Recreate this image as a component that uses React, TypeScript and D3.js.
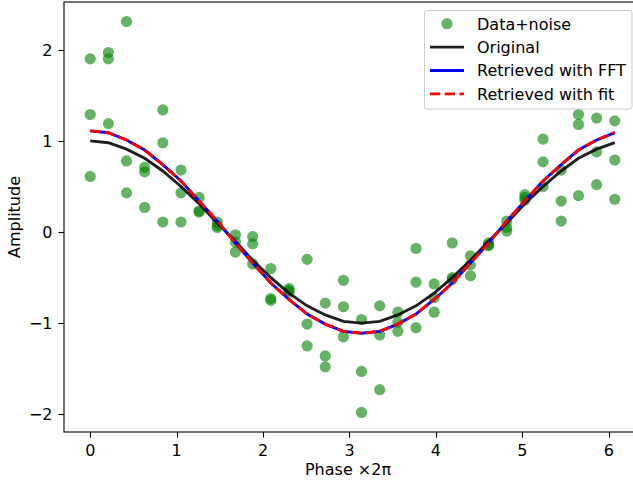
import React, { useEffect, useRef } from "react";
import * as d3 from "d3";

// phase positions (x axis)
const phase = [
  0, 0.21, 0.42, 0.63, 0.84, 1.05, 1.26, 1.47, 1.68, 1.88, 2.09, 2.3, 2.51,
  2.72, 2.93, 3.14, 3.35, 3.56, 3.77, 3.98, 4.19, 4.4, 4.61, 4.82, 5.03, 5.24,
  5.45, 5.65, 5.86, 6.07,
];

// three noisy samples at each phase
const noisy = [
  [1.9, 1.29, 0.61],
  [1.97, 1.9, 1.19],
  [2.31, 0.78, 0.43],
  [0.71, 0.66, 0.27],
  [1.34, 0.98, 0.11],
  [0.68, 0.43, 0.11],
  [0.38, 0.23, 0.22],
  [0.11, 0.07, 0.05],
  [-0.03, -0.11, -0.22],
  [-0.05, -0.13, -0.35],
  [-0.4, -0.73, -0.75],
  [-0.62, -0.64, -0.66],
  [-0.3, -1.01, -1.25],
  [-0.78, -1.36, -1.48],
  [-0.53, -0.82, -1.15],
  [-0.96, -1.53, -1.98],
  [-0.81, -1.13, -1.73],
  [-0.88, -0.99, -1.09],
  [-0.18, -0.55, -1.05],
  [-0.57, -0.72, -0.88],
  [-0.12, -0.5, -0.52],
  [-0.26, -0.36, -0.48],
  [-0.12, -0.14, -0.15],
  [0.12, 0.05, 0.01],
  [0.41, 0.38, 0.35],
  [1.02, 0.77, 0.5],
  [0.68, 0.34, 0.12],
  [1.29, 1.18, 0.4],
  [1.25, 0.88, 0.52],
  [1.22, 0.79, 0.36],
];

const original = [
  1.0, 0.98, 0.91, 0.81, 0.67, 0.5, 0.31, 0.1, -0.1, -0.31, -0.5, -0.67, -0.81,
  -0.91, -0.98, -1.0, -0.98, -0.91, -0.81, -0.67, -0.5, -0.31, -0.1, 0.1, 0.31,
  0.5, 0.67, 0.81, 0.91, 0.98,
];

const retrievedFFT = [
  1.11, 1.09, 1.01, 0.9, 0.74, 0.56, 0.34, 0.12, -0.12, -0.34, -0.56, -0.74,
  -0.9, -1.01, -1.09, -1.11, -1.09, -1.01, -0.9, -0.74, -0.56, -0.34, -0.12,
  0.12, 0.34, 0.56, 0.74, 0.9, 1.01, 1.09,
];

const retrievedFit = [
  1.11, 1.09, 1.01, 0.9, 0.74, 0.56, 0.34, 0.12, -0.12, -0.34, -0.56, -0.74,
  -0.9, -1.01, -1.09, -1.11, -1.09, -1.01, -0.9, -0.74, -0.56, -0.34, -0.12,
  0.12, 0.34, 0.56, 0.74, 0.9, 1.01, 1.09,
];

const xTicks = [0, 1, 2, 3, 4, 5, 6];
const yTicks = [-2, -1, 0, 1, 2];
const legendLabels = [
  "Data+noise",
  "Original",
  "Retrieved with FFT",
  "Retrieved with fit",
];

const FONT = "DejaVu Sans, sans-serif";
const FS = "16px";
const LW = 2.9;
const DASH = "10.3,4.4";

export default function App() {
  const ref = useRef<SVGSVGElement>(null);

  useEffect(() => {
    const W = 633;
    const H = 483;
    const left = 64;
    const top = 2;
    const bottom = 432;
    const right = 641;
    const tickLen = 5.6;

    const svg = d3.select(ref.current);
    svg.selectAll("*").remove();

    const points = phase.flatMap((p, i) => noisy[i].map((v) => ({ x: p, y: v })));

    const xMin = d3.min(phase)!;
    const xMax = d3.max(phase)!;
    const xPad = (xMax - xMin) * 0.05;
    const yMin = d3.min(points, (d) => d.y)!;
    const yMax = d3.max(points, (d) => d.y)!;
    const yPad = (yMax - yMin) * 0.05;

    const x = d3.scaleLinear().domain([xMin - xPad, xMax + xPad]).range([left, right]);
    const y = d3.scaleLinear().domain([yMin - yPad, yMax + yPad]).range([bottom, top]);

    svg.append("rect").attr("width", W).attr("height", H).attr("fill", "white");

    svg
      .append("clipPath")
      .attr("id", "plotclip")
      .append("rect")
      .attr("x", left)
      .attr("y", top)
      .attr("width", right - left)
      .attr("height", bottom - top);

    const plot = svg.append("g").attr("clip-path", "url(#plotclip)");

    plot
      .selectAll("circle")
      .data(points)
      .join("circle")
      .attr("cx", (d) => x(d.x))
      .attr("cy", (d) => y(d.y))
      .attr("r", 5.6)
      .attr("fill", "#008000")
      .attr("fill-opacity", 0.6);

    const line = d3
      .line<number>()
      .x((_, i) => x(phase[i]))
      .y((d) => y(d));

    plot
      .append("path")
      .attr("d", line(original))
      .attr("fill", "none")
      .attr("stroke", "#000")
      .attr("stroke-opacity", 0.88)
      .attr("stroke-width", LW);

    plot
      .append("path")
      .attr("d", line(retrievedFFT))
      .attr("fill", "none")
      .attr("stroke", "#0000ff")
      .attr("stroke-width", LW);

    plot
      .append("path")
      .attr("d", line(retrievedFit))
      .attr("fill", "none")
      .attr("stroke", "#ff0000")
      .attr("stroke-width", LW)
      .attr("stroke-dasharray", DASH);

    // spines
    svg
      .append("rect")
      .attr("x", left)
      .attr("y", top)
      .attr("width", right - left)
      .attr("height", bottom - top)
      .attr("fill", "none")
      .attr("stroke", "#000")
      .attr("stroke-width", 1.1);

    // x axis
    const xAxis = svg.append("g");
    xTicks.forEach((t) => {
      const px = Math.round(x(t)) + 0.5;
      xAxis
        .append("line")
        .attr("x1", px)
        .attr("x2", px)
        .attr("y1", bottom)
        .attr("y2", bottom + tickLen)
        .attr("stroke", "#000")
        .attr("stroke-width", 1.1);
      xAxis
        .append("text")
        .attr("x", x(t))
        .attr("y", bottom + 24)
        .attr("text-anchor", "middle")
        .style("font-family", FONT)
        .style("font-size", FS)
        .text(String(t));
    });

    // y axis
    const yAxis = svg.append("g");
    yTicks.forEach((t) => {
      const py = Math.round(y(t)) + 0.5;
      yAxis
        .append("line")
        .attr("x1", left - tickLen)
        .attr("x2", left)
        .attr("y1", py)
        .attr("y2", py)
        .attr("stroke", "#000")
        .attr("stroke-width", 1.1);
      yAxis
        .append("text")
        .attr("x", left - 11.5)
        .attr("y", y(t) + 5.8)
        .attr("text-anchor", "end")
        .style("font-family", FONT)
        .style("font-size", FS)
        .text(t < 0 ? "\u2212" + Math.abs(t) : String(t));
    });

    svg
      .append("text")
      .attr("x", (left + 632) / 2)
      .attr("y", 475)
      .attr("text-anchor", "middle")
      .style("font-family", FONT)
      .style("font-size", FS)
      .text("Phase \u00d72\u03c0");

    svg
      .append("text")
      .attr("transform", `translate(20,${(top + bottom) / 2}) rotate(-90)`)
      .attr("text-anchor", "middle")
      .style("font-family", FONT)
      .style("font-size", FS)
      .text("Amplitude");

    // legend
    const lg = svg.append("g");
    lg.append("rect")
      .attr("x", 424.5)
      .attr("y", 10.5)
      .attr("width", 207.5)
      .attr("height", 98.5)
      .attr("rx", 2.5)
      .attr("fill", "white")
      .attr("fill-opacity", 0.8)
      .attr("stroke", "#cccccc")
      .attr("stroke-width", 1);

    const rowY = (i: number) => 23.7 + i * 23.4;
    lg.append("circle")
      .attr("cx", 447)
      .attr("cy", rowY(0))
      .attr("r", 5.6)
      .attr("fill", "#008000")
      .attr("fill-opacity", 0.6);
    const legendLines = [
      { color: "#000", opacity: 0.88, dash: null as string | null },
      { color: "#0000ff", opacity: 1, dash: null },
      { color: "#ff0000", opacity: 1, dash: DASH },
    ];
    legendLines.forEach((s, i) => {
      const l = lg
        .append("line")
        .attr("x1", 430)
        .attr("x2", 464)
        .attr("y1", rowY(i + 1))
        .attr("y2", rowY(i + 1))
        .attr("stroke", s.color)
        .attr("stroke-opacity", s.opacity)
        .attr("stroke-width", LW);
      if (s.dash) l.attr("stroke-dasharray", s.dash);
    });
    legendLabels.forEach((label, i) => {
      lg.append("text")
        .attr("x", 477)
        .attr("y", rowY(i) + 5.8)
        .style("font-family", FONT)
        .style("font-size", FS)
        .text(label);
    });
  }, []);

  return (
    <svg
      ref={ref}
      width={633}
      height={483}
      style={{ position: "absolute", left: 0, top: 0, display: "block" }}
    />
  );
}
